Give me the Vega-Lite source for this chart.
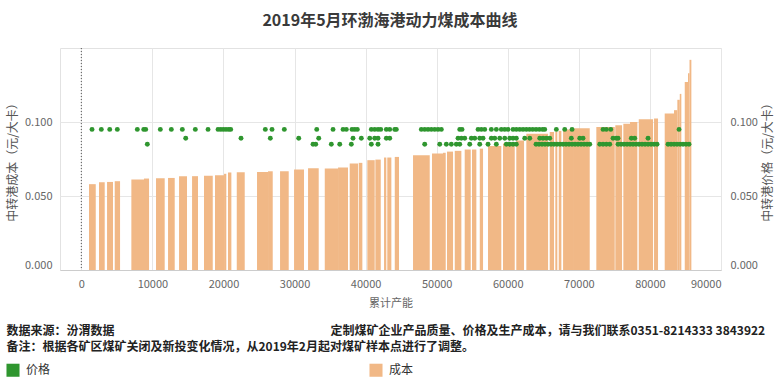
{
  "$schema": "https://vega.github.io/schema/vega-lite/v6.json",
  "background": "white",
  "padding": {"top": 13, "left": 6, "right": 5, "bottom": 0},
  "autosize": {"type": "pad"},
  "title": {"text": "2019年5月环渤海港动力煤成本曲线", "fontSize": 16, "fontWeight": "bold", "color": "#3a3a3a", "font": "Noto Sans CJK SC", "offset": 18, "anchor": "middle"},
  "config": {
    "font": "Noto Sans CJK SC",
    "view": {"stroke": "#e2e2e2"},
    "axis": {"labelFont": "Noto Sans CJK SC", "labelFontSize": 11, "labelColor": "#666666", "titleFont": "Noto Sans CJK SC", "titleFontSize": 12, "titleColor": "#555555", "titleFontWeight": "normal", "gridColor": "#e6e6e6", "domain": false, "ticks": false},
    "legend": {"labelFont": "Noto Sans CJK SC"}
  },
  "vconcat": [
    {
      "width": 661,
      "height": 222,
      "title": {
        "text": ["数据来源：汾渭数据　　　　　　　　　　　　　　　　　　定制煤矿企业产品质量、价格及生产成本，请与我们联系0351-8214333 3843922", "备注：根据各矿区煤矿关闭及新投变化情况，从2019年2月起对煤矿样本点进行了调整。"],
        "orient": "bottom", "anchor": "start", "frame": "bounds", "fontSize": 12, "fontWeight": "bold", "color": "#222222", "lineHeight": 16, "offset": 18, "font": "Noto Sans CJK SC"
      },
      "resolve": {"scale": {"y": "independent"}},
      "layer": [
        {
          "data": {"values": [
            {"start":1080,"end":2030,"cost":0.058},{"start":2490,"end":3290,"cost":0.0593},{"start":3620,"end":4460,"cost":0.0595},{"start":4700,"end":5450,"cost":0.060},
            {"start":7040,"end":8820,"cost":0.0612},{"start":8820,"end":9530,"cost":0.0618},{"start":10510,"end":11730,"cost":0.062},{"start":12200,"end":13140,"cost":0.0622},
            {"start":13750,"end":14870,"cost":0.0634},{"start":15580,"end":16420,"cost":0.0634},{"start":17260,"end":18490,"cost":0.0636},{"start":18810,"end":20080,"cost":0.064},
            {"start":20080,"end":20400,"cost":0.065},{"start":20640,"end":21110,"cost":0.0659},{"start":21870,"end":22990,"cost":0.066},{"start":24720,"end":26270,"cost":0.0663},
            {"start":26270,"end":26930,"cost":0.0667},{"start":27960,"end":29180,"cost":0.0667},{"start":29930,"end":31330,"cost":0.0679},{"start":31900,"end":33400,"cost":0.0688},
            {"start":34250,"end":36120,"cost":0.0686},{"start":36120,"end":37520,"cost":0.0692},{"start":37760,"end":38930,"cost":0.0719},{"start":39030,"end":39540,"cost":0.0724},
            {"start":40240,"end":41280,"cost":0.0742},{"start":41370,"end":42130,"cost":0.0746},{"start":42590,"end":42910,"cost":0.076},{"start":43050,"end":43620,"cost":0.076},
            {"start":44100,"end":44700,"cost":0.0764},{"start":46670,"end":49020,"cost":0.0775},{"start":49340,"end":50890,"cost":0.0787},{"start":50890,"end":51270,"cost":0.0792},
            {"start":51450,"end":52300,"cost":0.080},{"start":52540,"end":53470,"cost":0.0805},{"start":53940,"end":54790,"cost":0.0814},{"start":54970,"end":55580,"cost":0.0814},
            {"start":56060,"end":56520,"cost":0.082},{"start":57220,"end":59090,"cost":0.0838},{"start":59330,"end":60980,"cost":0.0855},{"start":61200,"end":62290,"cost":0.0875},
            {"start":62610,"end":65670,"cost":0.092},{"start":65900,"end":66510,"cost":0.0933},{"start":66690,"end":66970,"cost":0.0935},{"start":67170,"end":67540,"cost":0.094},
            {"start":67780,"end":69180,"cost":0.095},{"start":69180,"end":71530,"cost":0.0958},{"start":72460,"end":75050,"cost":0.0966},{"start":75130,"end":76080,"cost":0.0978},
            {"start":76260,"end":77200,"cost":0.0988},{"start":77200,"end":78230,"cost":0.1},{"start":78430,"end":80440,"cost":0.1018},{"start":80580,"end":81140,"cost":0.1023},
            {"start":82080,"end":83390,"cost":0.1057},{"start":83390,"end":83860,"cost":0.108},{"start":83860,"end":84200,"cost":0.115},{"start":84200,"end":84420,"cost":0.119},
            {"start":84900,"end":85360,"cost":0.127},{"start":85360,"end":85570,"cost":0.133},{"start":85570,"end":85830,"cost":0.142}
          ]},
          "mark": {"type": "rect"},
          "encoding": {
            "x": {"field": "start", "type": "quantitative", "scale": {"domain": [-3000, 90000], "nice": false, "zero": false},
                  "axis": {"values": [0,10000,20000,30000,40000,50000,60000,70000,80000,90000], "format": "d", "grid": true, "title": "累计产能", "titleFontSize": 11, "titleColor": "#666666", "titlePadding": 8, "labelPadding": 8, "labelFlush": true, "domain": true, "domainColor": "#cccccc"}},
            "x2": {"field": "end"},
            "y": {"field": "cost", "type": "quantitative", "scale": {"domain": [0, 0.15], "nice": false},
                  "axis": {"orient": "left", "values": [0, 0.05, 0.1], "format": ".3f", "grid": true, "title": "中转港成本（元/大卡）", "labelPadding": 8, "titlePadding": 5, "labelFlush": true}},
            "y2": {"datum": 0},
            "color": {"datum": "成本", "type": "nominal",
                      "scale": {"domain": ["价格", "成本"], "range": ["#2f962f", "#f1b886"]},
                      "legend": {"title": null, "orient": "none", "legendX": -54, "legendY": 315, "direction": "horizontal", "columns": 2, "columnPadding": 318, "symbolType": "square", "symbolSize": 170, "symbolStrokeWidth": 0, "symbolOpacity": 1, "labelFontSize": 12, "labelColor": "#333333", "labelOffset": 6}}
          }
        },
        {
          "data": {"values": [
            {"cap":1505,"price":0.095},{"cap":2814,"price":0.095},{"cap":3996,"price":0.095},{"cap":5065,"price":0.095},{"cap":7879,"price":0.095},{"cap":8780,"price":0.095},{"cap":9061,"price":0.095},{"cap":11115,"price":0.095},{"cap":12663,"price":0.095},{"cap":14211,"price":0.095},{"cap":16040,"price":0.095},{"cap":17827,"price":0.095},{"cap":19234,"price":0.095},{"cap":19614,"price":0.095},{"cap":19979,"price":0.095},{"cap":20359,"price":0.095},{"cap":20739,"price":0.095},{"cap":21020,"price":0.095},{"cap":25889,"price":0.095},{"cap":26831,"price":0.095},{"cap":28562,"price":0.095},{"cap":33121,"price":0.095},{"cap":35414,"price":0.095},{"cap":36821,"price":0.095},{"cap":37286,"price":0.095},{"cap":38087,"price":0.095},{"cap":38467,"price":0.095},{"cap":38833,"price":0.095},{"cap":40803,"price":0.095},{"cap":41281,"price":0.095},{"cap":41746,"price":0.095},{"cap":42126,"price":0.095},{"cap":42914,"price":0.095},{"cap":43392,"price":0.095},{"cap":44095,"price":0.095},{"cap":44321,"price":0.095},{"cap":47838,"price":0.095},{"cap":48316,"price":0.095},{"cap":48781,"price":0.095},{"cap":49245,"price":0.095},{"cap":49723,"price":0.095},{"cap":50188,"price":0.095},{"cap":50652,"price":0.095},{"cap":53241,"price":0.095},{"cap":53564,"price":0.095},{"cap":55816,"price":0.095},{"cap":56280,"price":0.095},{"cap":56758,"price":0.095},{"cap":57687,"price":0.095},{"cap":58391,"price":0.095},{"cap":59094,"price":0.095},{"cap":59572,"price":0.095},{"cap":60037,"price":0.095},{"cap":60740,"price":0.095},{"cap":61205,"price":0.095},{"cap":61683,"price":0.095},{"cap":62147,"price":0.095},{"cap":62612,"price":0.095},{"cap":63062,"price":0.095},{"cap":63512,"price":0.095},{"cap":63976,"price":0.095},{"cap":64441,"price":0.095},{"cap":64891,"price":0.095},{"cap":65200,"price":0.095},{"cap":66833,"price":0.095},{"cap":68014,"price":0.095},{"cap":69041,"price":0.095},{"cap":73403,"price":0.095},{"cap":73868,"price":0.095},{"cap":74487,"price":0.095},{"cap":84096,"price":0.095},
            {"cap":14689,"price":0.089},{"cap":22470,"price":0.089},{"cap":26592,"price":0.089},{"cap":30588,"price":0.089},{"cap":33402,"price":0.089},{"cap":38228,"price":0.089},{"cap":39396,"price":0.089},{"cap":40578,"price":0.089},{"cap":41281,"price":0.089},{"cap":41746,"price":0.089},{"cap":42914,"price":0.089},{"cap":43392,"price":0.089},{"cap":53002,"price":0.089},{"cap":53466,"price":0.089},{"cap":53944,"price":0.089},{"cap":54873,"price":0.089},{"cap":55351,"price":0.089},{"cap":56055,"price":0.089},{"cap":56519,"price":0.089},{"cap":57687,"price":0.089},{"cap":58165,"price":0.089},{"cap":58869,"price":0.089},{"cap":59572,"price":0.089},{"cap":60276,"price":0.089},{"cap":60740,"price":0.089},{"cap":61205,"price":0.089},{"cap":62386,"price":0.089},{"cap":63090,"price":0.089},{"cap":64497,"price":0.089},{"cap":64961,"price":0.089},{"cap":65426,"price":0.089},{"cap":65904,"price":0.089},{"cap":68943,"price":0.089},{"cap":70125,"price":0.089},{"cap":70589,"price":0.089},{"cap":74810,"price":0.089},{"cap":75275,"price":0.089},{"cap":75514,"price":0.089},{"cap":77385,"price":0.089},{"cap":77863,"price":0.089},{"cap":79735,"price":0.089},
            {"cap":9286,"price":0.085},{"cap":32600,"price":0.085},{"cap":32980,"price":0.085},{"cap":35175,"price":0.085},{"cap":36357,"price":0.085},{"cap":37989,"price":0.085},{"cap":40803,"price":0.085},{"cap":41746,"price":0.085},{"cap":48316,"price":0.085},{"cap":50427,"price":0.085},{"cap":51356,"price":0.085},{"cap":52059,"price":0.085},{"cap":52763,"price":0.085},{"cap":53241,"price":0.085},{"cap":54648,"price":0.085},{"cap":56055,"price":0.085},{"cap":57223,"price":0.085},{"cap":58391,"price":0.085},{"cap":59798,"price":0.085},{"cap":60276,"price":0.085},{"cap":60740,"price":0.085},{"cap":61205,"price":0.085},{"cap":63976,"price":0.085},{"cap":64398,"price":0.085},{"cap":64820,"price":0.085},{"cap":65242,"price":0.085},{"cap":65665,"price":0.085},{"cap":66087,"price":0.085},{"cap":66509,"price":0.085},{"cap":66931,"price":0.085},{"cap":67353,"price":0.085},{"cap":67775,"price":0.085},{"cap":68197,"price":0.085},{"cap":68619,"price":0.085},{"cap":69041,"price":0.085},{"cap":69464,"price":0.085},{"cap":69886,"price":0.085},{"cap":70308,"price":0.085},{"cap":70730,"price":0.085},{"cap":71152,"price":0.085},{"cap":71532,"price":0.085},{"cap":72939,"price":0.085},{"cap":73403,"price":0.085},{"cap":73868,"price":0.085},{"cap":74346,"price":0.085},{"cap":75514,"price":0.085},{"cap":75936,"price":0.085},{"cap":76358,"price":0.085},{"cap":76780,"price":0.085},{"cap":77202,"price":0.085},{"cap":77624,"price":0.085},{"cap":78046,"price":0.085},{"cap":78468,"price":0.085},{"cap":78890,"price":0.085},{"cap":79313,"price":0.085},{"cap":79735,"price":0.085},{"cap":80157,"price":0.085},{"cap":80579,"price":0.085},{"cap":81001,"price":0.085},{"cap":82549,"price":0.085},{"cap":82971,"price":0.085},{"cap":83393,"price":0.085},{"cap":83815,"price":0.085},{"cap":84237,"price":0.085},{"cap":84659,"price":0.085},{"cap":85081,"price":0.085},{"cap":85503,"price":0.085}
          ]},
          "mark": {"type": "circle", "size": 24, "opacity": 1},
          "encoding": {
            "x": {"field": "cap", "type": "quantitative"},
            "y": {"field": "price", "type": "quantitative", "scale": {"domain": [0, 0.15], "nice": false},
                  "axis": {"orient": "right", "values": [0, 0.05, 0.1], "format": ".3f", "grid": false, "title": "中转港价格（元/大卡）", "titleAngle": 270, "titleBaseline": "top", "labelPadding": 9, "titlePadding": 5, "labelFlush": true}},
            "color": {"datum": "价格", "type": "nominal"}
          }
        },
        {
          "data": {"values": [{"ref": 0}]},
          "mark": {"type": "rule", "color": "#555555", "strokeDash": [1, 2], "strokeWidth": 1},
          "encoding": {"x": {"field": "ref", "type": "quantitative"}}
        }
      ]
    }
  ]
}
